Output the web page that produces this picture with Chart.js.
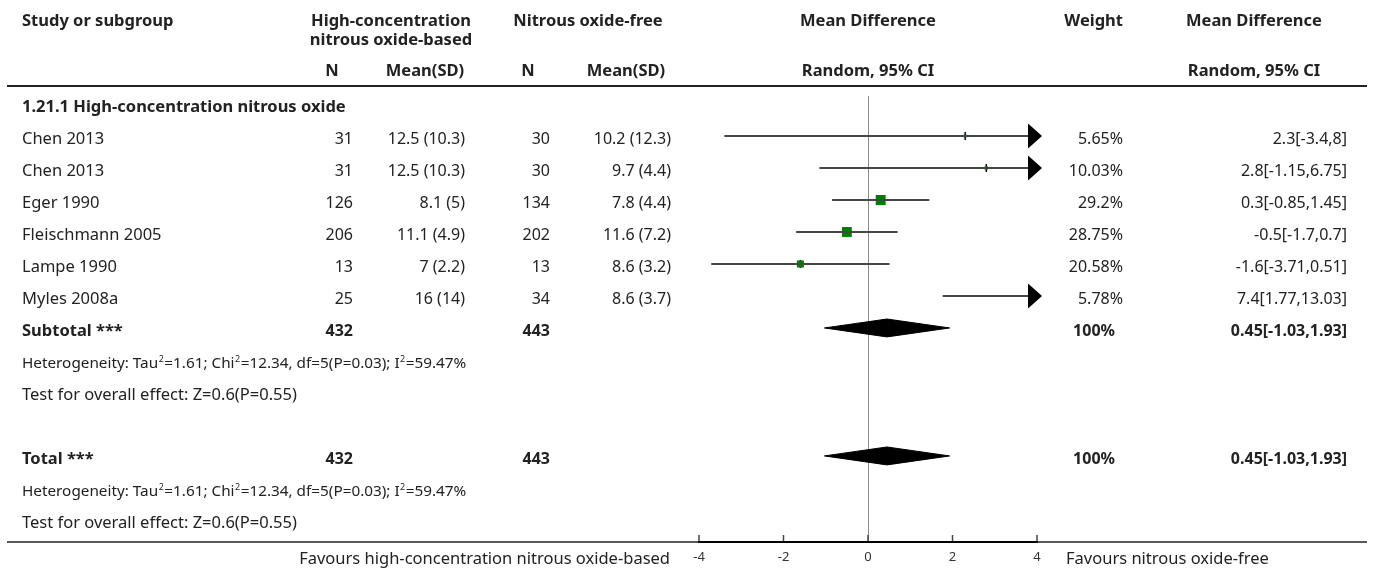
<!DOCTYPE html>
<html>
<head>
<meta charset="utf-8">
<title>Forest plot: high-concentration nitrous oxide</title>
<script src="https://cdn.jsdelivr.net/npm/chart.js@4.4.1/dist/chart.umd.min.js"></script>
<style>
  body { margin: 0; background: #fff; }
  canvas { display: block; }
</style>
</head>
<body>
<canvas id="forestChart" width="1375" height="571"></canvas>
<script>
// study rows
const studies = ['Chen 2013', 'Chen 2013', 'Eger 1990', 'Fleischmann 2005', 'Lampe 1990', 'Myles 2008a'];
const expN = [31, 31, 126, 206, 13, 25];
const expMean = [12.5, 12.5, 8.1, 11.1, 7, 16];
const expSD = [10.3, 10.3, 5, 4.9, 2.2, 14];
const ctlN = [30, 30, 134, 202, 13, 34];
const ctlMean = [10.2, 9.7, 7.8, 11.6, 8.6, 8.6];
const ctlSD = [12.3, 4.4, 4.4, 7.2, 3.2, 3.7];
const meanDiff = [2.3, 2.8, 0.3, -0.5, -1.6, 7.4];
const ciLow = [-3.4, -1.15, -0.85, -1.7, -3.71, 1.77];
const ciHigh = [8, 6.75, 1.45, 0.7, 0.51, 13.03];
const weights = [5.65, 10.03, 29.2, 28.75, 20.58, 5.78];

// pooled result (subtotal and total are the same here)
const expTotal = 432;
const ctlTotal = 443;
const pooledMD = 0.45;
const pooledLow = -1.03;
const pooledHigh = 1.93;
const tau2 = 1.61;
const chi2 = 12.34;
const hetDf = 5;
const hetP = 0.03;
const i2 = 59.47;
const zValue = 0.6;
const zP = 0.55;

const xTicks = [-4, -2, 0, 2, 4];

// row slots on the y scale
const SECTION_ROW = 0;
const studyRows = studies.map((_, i) => i + 1);
const SUBTOTAL_ROW = 7;
const TOTAL_ROW = 11;

const FONT = '"Noto Sans", "Open Sans", sans-serif';
const INK = '#222';
const CI_COLOR = '#454545';
const BOX_COLOR = '#007f00';
const DIAMOND_H = 0.28;
const LABEL_SIZE = 16.5;
const NUM_SIZE = 16;

const COL = { name: 22, expN: 353, expMean: 465, ctlN: 550, ctlMean: 671, weight: 1123, md: 1347 };

// '^' marks a superscript 2
const hetText = `Heterogeneity: Tau^=${tau2}; Chi^=${chi2}, df=${hetDf}(P=${hetP}); I^=${i2}%`;
const testText = `Test for overall effect: Z=${zValue}(P=${zP})`;

function boxSide(w) {
    return Math.max(3, w * 0.343);
}

function diamond(row, est, lo, hi) {
    return [
        { x: lo, y: row },
        { x: est, y: row - DIAMOND_H },
        { x: hi, y: row },
        { x: est, y: row + DIAMOND_H },
        { x: lo, y: row }
    ];
}

function put(ctx, str, x, y, align, bold, size) {
    ctx.font = (bold ? 'bold ' : '') + (size || LABEL_SIZE) + 'px ' + FONT;
    ctx.textAlign = align || 'left';
    ctx.fillText(str, x, y);
}

// left-aligned text with small raised 2s
function putSup(ctx, str, x, y, size) {
    const parts = str.split('^');
    const big = size + 'px ' + FONT;
    const small = Math.round(size * 0.62) + 'px ' + FONT;
    ctx.textAlign = 'left';
    let cx = x;
    parts.forEach((p, i) => {
        ctx.font = big;
        ctx.fillText(p, cx, y);
        cx += ctx.measureText(p).width;
        if (i < parts.length - 1) {
            ctx.font = small;
            ctx.fillText('2', cx + 0.5, y - size * 0.4);
            cx += ctx.measureText('2').width + 1;
        }
    });
}

function hline(ctx, x1, x2, y) {
    ctx.beginPath();
    ctx.moveTo(x1, y);
    ctx.lineTo(x2, y);
    ctx.stroke();
}

const tablePlugin = {
    id: 'forestTable',
    beforeDraw(chart) {
        const ctx = chart.ctx;
        ctx.save();
        ctx.fillStyle = '#fff';
        ctx.fillRect(0, 0, chart.width, chart.height);
        ctx.strokeStyle = '#222';
        ctx.lineWidth = 2;
        hline(ctx, 7, 1367, 86);
        ctx.lineWidth = 1.5;
        hline(ctx, 7, 1367, chart.chartArea.bottom);
        ctx.restore();
    },
    afterDatasetsDraw(chart) {
        // arrows for intervals running off the axis
        const ctx = chart.ctx;
        const { x, y } = chart.scales;
        ctx.save();
        ctx.fillStyle = '#000';
        studies.forEach((_, i) => {
            const yp = y.getPixelForValue(studyRows[i]);
            if (ciHigh[i] > x.max) {
                const tip = x.getPixelForValue(x.max) + 5;
                ctx.beginPath();
                ctx.moveTo(tip, yp);
                ctx.lineTo(tip - 14, yp - 12.5);
                ctx.lineTo(tip - 14, yp + 12.5);
                ctx.closePath();
                ctx.fill();
            }
            if (ciLow[i] < x.min) {
                const tip = x.getPixelForValue(x.min) - 5;
                ctx.beginPath();
                ctx.moveTo(tip, yp);
                ctx.lineTo(tip + 14, yp - 12.5);
                ctx.lineTo(tip + 14, yp + 12.5);
                ctx.closePath();
                ctx.fill();
            }
        });
        ctx.restore();
    },
    afterDraw(chart) {
        const ctx = chart.ctx;
        const { x, y } = chart.scales;
        const mid = x.getPixelForValue(0);
        const base = row => y.getPixelForValue(row) + 8;

        ctx.save();
        // tick marks pointing up from the axis
        ctx.strokeStyle = '#444';
        ctx.lineWidth = 1.5;
        x.ticks.forEach(t => {
            const px = x.getPixelForValue(t.value);
            ctx.beginPath();
            ctx.moveTo(px, chart.chartArea.bottom - 7);
            ctx.lineTo(px, chart.chartArea.bottom - 1);
            ctx.stroke();
        });

        ctx.fillStyle = INK;
        ctx.textBaseline = 'alphabetic';

        // column headers
        put(ctx, 'Study or subgroup', COL.name, 26, 'left', true);
        put(ctx, 'High-concentration', 391, 26, 'center', true);
        put(ctx, 'nitrous oxide-based', 391, 45, 'center', true);
        put(ctx, 'Nitrous oxide-free', 588, 26, 'center', true);
        put(ctx, 'Mean Difference', mid, 26, 'center', true);
        put(ctx, 'Weight', COL.weight, 26, 'right', true);
        put(ctx, 'Mean Difference', 1254, 26, 'center', true);
        put(ctx, 'N', 332, 76, 'center', true);
        put(ctx, 'Mean(SD)', 425, 76, 'center', true);
        put(ctx, 'N', 528, 76, 'center', true);
        put(ctx, 'Mean(SD)', 626, 76, 'center', true);
        put(ctx, 'Random, 95% CI', mid, 76, 'center', true);
        put(ctx, 'Random, 95% CI', 1254, 76, 'center', true);

        put(ctx, '1.21.1 High-concentration nitrous oxide', COL.name, base(SECTION_ROW), 'left', true);

        studies.forEach((name, i) => {
            const by = base(studyRows[i]);
            put(ctx, name, COL.name, by, 'left');
            put(ctx, String(expN[i]), COL.expN, by, 'right', false, NUM_SIZE);
            put(ctx, `${expMean[i]} (${expSD[i]})`, COL.expMean, by, 'right', false, NUM_SIZE);
            put(ctx, String(ctlN[i]), COL.ctlN, by, 'right', false, NUM_SIZE);
            put(ctx, `${ctlMean[i]} (${ctlSD[i]})`, COL.ctlMean, by, 'right', false, NUM_SIZE);
            put(ctx, `${weights[i]}%`, COL.weight, by, 'right', false, NUM_SIZE);
            put(ctx, `${meanDiff[i]}[${ciLow[i]},${ciHigh[i]}]`, COL.md, by, 'right', false, NUM_SIZE);
        });

        const pooledText = `${pooledMD}[${pooledLow},${pooledHigh}]`;
        [[SUBTOTAL_ROW, 'Subtotal ***'], [TOTAL_ROW, 'Total ***']].forEach(([row, label]) => {
            const by = base(row);
            put(ctx, label, COL.name, by, 'left', true);
            put(ctx, String(expTotal), COL.expN, by, 'right', true, NUM_SIZE);
            put(ctx, String(ctlTotal), COL.ctlN, by, 'right', true, NUM_SIZE);
            put(ctx, '100%', COL.weight - 8, by, 'right', true, NUM_SIZE);
            put(ctx, pooledText, COL.md, by, 'right', true, NUM_SIZE);
            putSup(ctx, hetText, COL.name, base(row + 1), 15.3);
            put(ctx, testText, COL.name, base(row + 2), 'left');
        });

        put(ctx, 'Favours high-concentration nitrous oxide-based', 670, 564, 'right');
        put(ctx, 'Favours nitrous oxide-free', 1066, 564, 'left');
        ctx.restore();
    }
};

const ciDatasets = studies.map((name, i) => ({
    type: 'line',
    label: name,
    data: [{ x: ciLow[i], y: studyRows[i] }, { x: ciHigh[i], y: studyRows[i] }],
    borderColor: CI_COLOR,
    borderWidth: 2,
    pointRadius: 0,
    fill: false
}));

const pointData = studies.map((_, i) => ({ x: meanDiff[i], y: studyRows[i] }));

const diamondDatasets = [SUBTOTAL_ROW, TOTAL_ROW].map(row => ({
    type: 'line',
    label: 'pooled',
    data: diamond(row, pooledMD, pooledLow, pooledHigh),
    borderColor: '#000',
    backgroundColor: '#000',
    borderWidth: 1,
    pointRadius: 0,
    tension: 0,
    fill: 'shape'
}));

const ctx = document.getElementById('forestChart').getContext('2d');
const forestChart = new Chart(ctx, {
    type: 'scatter',
    data: {
        datasets: [
            ...ciDatasets,
            {
                label: 'Study estimate',
                data: pointData,
                pointStyle: 'rect',
                pointRadius: c => boxSide(weights[c.dataIndex]) / (2 * Math.SQRT1_2),
                pointBackgroundColor: BOX_COLOR,
                pointBorderWidth: 0
            },
            {
                label: 'Estimate tick',
                data: pointData,
                pointStyle: 'line',
                rotation: 90,
                pointRadius: c => Math.max(4, boxSide(weights[c.dataIndex]) / 2),
                pointBorderColor: '#000',
                pointBorderWidth: 1.5
            },
            ...diamondDatasets
        ]
    },
    options: {
        responsive: false,
        animation: false,
        events: [],
        layout: {
            padding: { left: 699, right: 338, top: 96, bottom: 0 }
        },
        plugins: {
            legend: { display: false },
            tooltip: { enabled: false }
        },
        scales: {
            x: {
                type: 'linear',
                min: -4,
                max: 4,
                afterBuildTicks: scale => {
                    scale.ticks = xTicks.map(v => ({ value: v }));
                },
                afterFit: scale => {
                    scale.height = 29;
                },
                ticks: {
                    color: '#333',
                    padding: 7,
                    font: { family: FONT, size: 13 }
                },
                grid: {
                    drawTicks: false,
                    lineWidth: 1,
                    color: c => (c.tick && c.tick.value === 0 ? '#8c8c8c' : 'rgba(0,0,0,0)')
                },
                border: { color: '#000', width: 2 }
            },
            y: {
                type: 'linear',
                display: false,
                reverse: true,
                min: -0.25,
                max: 13.69
            }
        }
    },
    plugins: [tablePlugin]
});
</script>
</body>
</html>
